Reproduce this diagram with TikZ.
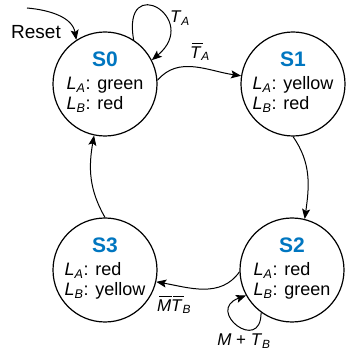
\documentclass[tikz,border=0pt]{standalone}
\usepackage{fontspec}
\setmainfont{Liberation Sans}
\usetikzlibrary{arrows.meta}
\definecolor{sblue}{RGB}{0,118,192}
\newcommand{\Lsub}[1]{\textit{L}\textsubscript{\textit{#1}}}
\newcommand{\Tsub}[1]{\textit{T}\textsubscript{\textit{#1}}}
\newcommand{\bartxt}[1]{\leavevmode\setbox0\hbox{\textit{#1}}\rlap{\hspace{0.12em}\rule[\dimexpr\ht0+2.5pt\relax]{\dimexpr\wd0-0.05em\relax}{1.1pt}}\box0}
\newcommand{\stxt}[3]{\begin{tabular}{@{}l@{}}\multicolumn{1}{@{}c@{}}{\color{sblue}\bfseries\fontsize{21}{22}\selectfont #1}\\[3pt]\Lsub{A}: #2\\\Lsub{B}: #3\end{tabular}}
\begin{document}
\begin{tikzpicture}[x=1pt,y=1pt,
 state/.style={draw, circle, line width=1.2pt, minimum size=104pt, inner sep=0pt, font=\fontsize{18}{20}\selectfont},
 tr/.style={line width=1pt, -{Stealth[length=10pt,width=8pt,inset=2pt]}},
 lbl/.style={font=\fontsize{17}{19}\selectfont, inner sep=0pt}]
\useasboundingbox (0,0) rectangle (346,351);
\node[state] (S0) at (105,267) {\stxt{S0}{green}{red}};
\node[state] (S1) at (293,267) {\stxt{S1}{yellow}{red}};
\node[state] (S2) at (292,81) {\stxt{S2}{red}{green}};
\node[state] (S3) at (105,81) {\stxt{S3}{red}{yellow}};
\coordinate (rs) at (27,343);
\node[lbl, font=\fontsize{19}{21}\selectfont] (reset) at (36,319) {Reset};
\draw[tr] (rs) to[out=-5,in=100] (S0.123);
\draw[tr] (S0.57) .. controls +(100:70) and +(40:65) .. (S0.27);
\node[lbl] (lta) at (180,333) {\Tsub{A}};
\draw[tr] (S0.4) to[out=50,in=172] (S1.171);
\node[lbl] (ltab) at (200,299) {\bartxt{T}\textsubscript{\textit{A}}};
\draw[tr] (S1.270) to[out=-55,in=82] (S2.76);
\draw[tr] (S2.182) to[out=235,in=-10] (S3.-13);
\node[lbl] (lmt) at (174,46) {\bartxt{M}\bartxt{T}\textsubscript{\textit{B}}};
\draw[tr] (S2.234) .. controls +(-90:42) and +(200:44) .. (S2.209);
\node[lbl] (lmtb) at (244,10) {\textit{M} + \Tsub{B}};
\draw[tr] (S3.90) to[out=120,in=-100] (S0.258);
\end{tikzpicture}
\end{document}
